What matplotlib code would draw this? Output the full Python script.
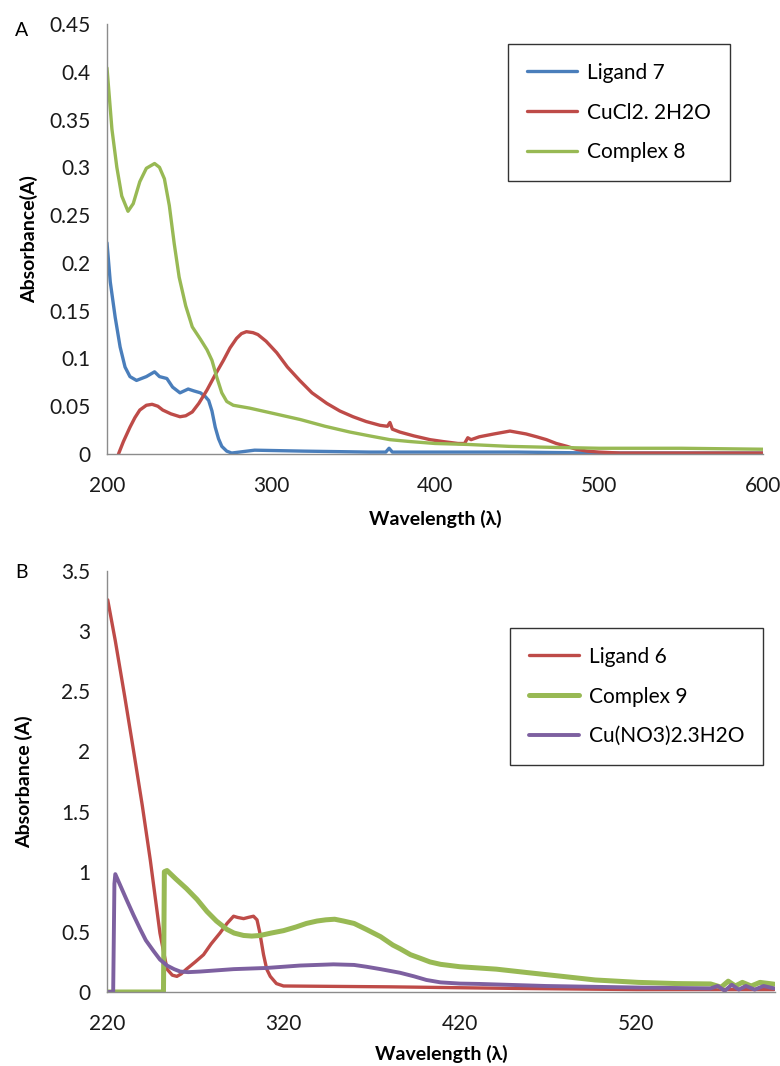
import matplotlib
matplotlib.use("Agg")
import matplotlib.pyplot as plt

plt.rcParams['font.family'] = ['Lato', 'DejaVu Sans']

# ---- panel A data (wavelength nm, absorbance) ----
lig7_x = [200, 202, 205, 208, 211, 214, 218, 221, 224, 227, 229, 232, 236.5, 240, 244.5, 249.5,
          253, 257, 260, 262, 264, 266, 268, 270, 273, 276, 290, 320, 360, 370, 372, 374, 400, 450,
          500, 550, 600]
lig7_y = [0.221, 0.18, 0.143, 0.112, 0.091, 0.081, 0.077, 0.079, 0.081, 0.084, 0.086, 0.081, 0.079,
          0.070, 0.064, 0.068, 0.066, 0.064, 0.060, 0.056, 0.045, 0.028, 0.016, 0.008, 0.003, 0.001,
          0.004, 0.003, 0.002, 0.002, 0.006, 0.002, 0.002, 0.002, 0.001, 0.001, 0.001]

cucl_x = [207, 210, 214, 217, 220, 224, 227.5, 231, 234, 239, 244.5, 248, 252, 256, 261, 266, 271,
          275, 279, 282, 285, 289, 292, 297, 303.5, 310, 317.5, 325, 334, 342, 350, 358, 366.5, 371,
          372.5, 374, 378.5, 387, 397, 405, 414, 418, 420, 422, 427, 436, 445.7, 455.5, 462, 468,
          474, 480.5, 486, 492.7, 500, 513, 550, 600]
cucl_y = [0.0, 0.013, 0.028, 0.038, 0.046, 0.051, 0.052, 0.05, 0.046, 0.042, 0.039, 0.04, 0.044,
          0.053, 0.067, 0.083, 0.098, 0.111, 0.121, 0.126, 0.128, 0.127, 0.125, 0.118, 0.106, 0.091,
          0.077, 0.064, 0.053, 0.045, 0.039, 0.034, 0.030, 0.029, 0.033, 0.026, 0.023, 0.019, 0.015,
          0.013, 0.011, 0.011, 0.017, 0.015, 0.018, 0.021, 0.024, 0.021, 0.018, 0.015, 0.011, 0.008,
          0.005, 0.003, 0.002, 0.001, 0.001, 0.001]

cplx8_x = [200, 203, 206, 209, 212.8, 216, 220, 224, 229, 232, 235, 238, 241, 244, 248, 252, 257,
           261, 264, 267, 270, 273, 277, 287, 300, 318, 333, 348, 360, 372.5, 385, 400, 420, 445,
           470, 500, 550, 600]
cplx8_y = [0.404, 0.34, 0.30, 0.27, 0.254, 0.262, 0.285, 0.299, 0.304, 0.30, 0.288, 0.26, 0.22,
           0.185, 0.155, 0.133, 0.12, 0.109, 0.098, 0.08, 0.064, 0.055, 0.051, 0.048, 0.043, 0.036,
           0.029, 0.023, 0.019, 0.015, 0.013, 0.011, 0.01, 0.008, 0.007, 0.006, 0.006, 0.005]

# ---- panel B data ----
lig6_x = [220.4, 224.7, 230, 235, 240, 244.5, 250, 254, 257, 259.6, 262, 265, 270, 274.7, 279,
          284, 288, 291.7, 294, 297.4, 300, 303, 305, 306.5, 308.7, 310.5, 312.5, 316, 320, 380,
          450, 520, 598]
lig6_y = [3.26, 2.92, 2.46, 2.01, 1.55, 1.10, 0.49, 0.19, 0.14, 0.13, 0.15, 0.19, 0.25, 0.31, 0.40,
          0.49, 0.57, 0.63, 0.62, 0.61, 0.62, 0.63, 0.60, 0.50, 0.31, 0.19, 0.13, 0.07, 0.05, 0.043,
          0.03, 0.02, 0.02]

cplx9_x = [220, 252, 252.5, 254, 259, 265, 271, 276.6, 282, 288, 292, 297.4, 302, 306.8, 313, 320,
           327, 333, 339, 344, 349, 354, 360, 367, 375, 382, 386, 392, 397.6, 403, 409, 420, 440.6,
           459, 478, 496.6, 521, 543, 562, 568, 572, 576, 580, 585, 590, 598]
cplx9_y = [0.0, 0.0, 1.0, 1.01, 0.94, 0.86, 0.77, 0.67, 0.59, 0.52, 0.49, 0.47, 0.465, 0.47, 0.49,
           0.51, 0.54, 0.57, 0.59, 0.60, 0.605, 0.59, 0.57, 0.52, 0.46, 0.39, 0.36, 0.31, 0.28, 0.25,
           0.23, 0.21, 0.19, 0.16, 0.13, 0.10, 0.08, 0.07, 0.067, 0.04, 0.09, 0.05, 0.08, 0.05, 0.08,
           0.065]

cuno_x = [220, 223.5, 224.2, 224.7, 228, 231, 235, 238.9, 242, 246.4, 250, 254, 258, 261.5, 266,
          272.8, 291.7, 310.6, 329.4, 348.3, 360, 367, 375, 386, 394, 401, 409, 420, 431, 468.6,
          524.7, 562, 566, 570, 574, 578, 582, 587, 592, 598]
cuno_y = [0.0, 0.0, 0.9, 0.98, 0.87, 0.77, 0.64, 0.52, 0.43, 0.34, 0.27, 0.22, 0.19, 0.17, 0.165,
          0.17, 0.19, 0.20, 0.22, 0.23, 0.225, 0.21, 0.19, 0.16, 0.13, 0.10, 0.08, 0.07, 0.067, 0.05,
          0.036, 0.03, 0.05, 0.01, 0.06, 0.02, 0.05, 0.02, 0.05, 0.03]

top_yticks = [0, 0.05, 0.1, 0.15, 0.2, 0.25, 0.3, 0.35, 0.4, 0.45]
top_ylabels = ["0", "0.05", "0.1", "0.15", "0.2", "0.25", "0.3", "0.35", "0.4", "0.45"]
top_xticks = [200, 300, 400, 500, 600]
bot_yticks = [0, 0.5, 1, 1.5, 2, 2.5, 3, 3.5]
bot_ylabels = ["0", "0.5", "1", "1.5", "2", "2.5", "3", "3.5"]
bot_xticks = [220, 320, 420, 520]

BLUE = "#4A7EBB"
RED = "#BE4B48"
GREEN = "#98B954"
PURPLE = "#7D60A0"
AXC = "#8C8C8C"


def style_axes(ax):
    for s in ["top", "right"]:
        ax.spines[s].set_visible(False)
    for s in ["left", "bottom"]:
        ax.spines[s].set_color(AXC)
        ax.spines[s].set_linewidth(1.0)
    ax.tick_params(length=0, labelsize=15, colors="#1a1a1a")
    ax.tick_params(axis="y", pad=12)
    ax.tick_params(axis="x", pad=16)


def line(ax, x, y, color, lw, label):
    ax.plot(x, y, color=color, lw=lw, label=label,
            solid_joinstyle="round", solid_capstyle="round")


W, H = 780, 1066
fig = plt.figure(figsize=(W / 100, H / 100), dpi=100)

# panel A
ax1 = fig.add_axes([107 / W, 1 - 454 / H, 656 / W, 430 / H])
line(ax1, lig7_x, lig7_y, BLUE, 2.4, "Ligand 7")
line(ax1, cucl_x, cucl_y, RED, 2.4, "CuCl2. 2H2O")
line(ax1, cplx8_x, cplx8_y, GREEN, 2.4, "Complex 8")
ax1.set_xlim(200, 600)
ax1.set_ylim(0, 0.45)
ax1.set_yticks(top_yticks, top_ylabels)
ax1.set_xticks(top_xticks)
style_axes(ax1)
ax1.set_xlabel("Wavelength (λ)", fontsize=14, fontweight="bold", labelpad=10)
ax1.set_ylabel("Absorbance(A)", fontsize=14, fontweight="bold", labelpad=8)
leg1 = ax1.legend(loc="upper left", bbox_to_anchor=(508 / W, 1 - 44 / H),
                  bbox_transform=fig.transFigure, fontsize=15, frameon=True, fancybox=False,
                  edgecolor="black", handlelength=2.4, labelspacing=0.95, borderpad=0.9,
                  handletextpad=0.5, borderaxespad=0)
leg1.get_frame().set_linewidth(1.0)
fig.text(15 / W, 1 - 30 / H, "A", fontsize=14, va="center", ha="left")

# panel B
ax2 = fig.add_axes([107 / W, 1 - 992 / H, 668 / W, 421 / H])
line(ax2, lig6_x, lig6_y, RED, 2.4, "Ligand 6")
line(ax2, cplx9_x, cplx9_y, GREEN, 3.6, "Complex 9")
line(ax2, cuno_x, cuno_y, PURPLE, 2.8, "Cu(NO3)2.3H2O")
ax2.set_xlim(220, 598.5)
ax2.set_ylim(0, 3.5)
ax2.set_yticks(bot_yticks, bot_ylabels)
ax2.set_xticks(bot_xticks)
style_axes(ax2)
ax2.set_xlabel("Wavelength (λ)", fontsize=14, fontweight="bold", labelpad=8)
ax2.set_ylabel("Absorbance (A)", fontsize=14, fontweight="bold", labelpad=20)
leg2 = ax2.legend(loc="upper left", bbox_to_anchor=(510 / W, 1 - 628 / H),
                  bbox_transform=fig.transFigure, fontsize=15, frameon=True, fancybox=False,
                  edgecolor="black", handlelength=2.4, labelspacing=0.95, borderpad=0.9,
                  handletextpad=0.5, borderaxespad=0)
leg2.get_frame().set_linewidth(1.0)
fig.text(15 / W, 1 - 572 / H, "B", fontsize=14, va="center", ha="left")

fig.savefig("out.png", dpi=100)
